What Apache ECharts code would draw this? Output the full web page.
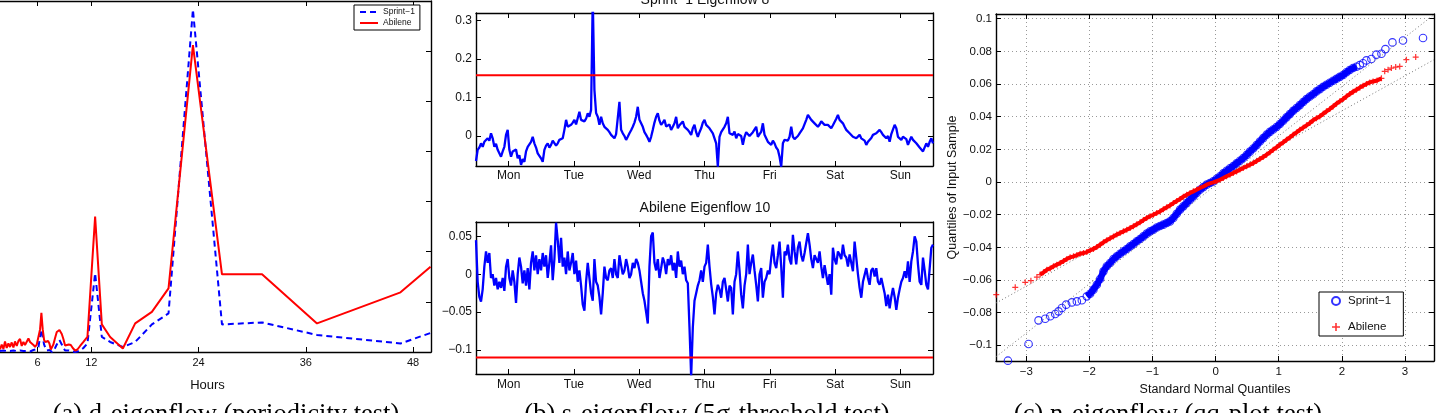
<!DOCTYPE html>
<html><head><meta charset="utf-8">
<script src="https://cdn.jsdelivr.net/npm/echarts@6/dist/echarts.min.js"></script>
<style>html,body{margin:0;padding:0;background:#fff}#c{width:1440px;height:413px}</style>
</head><body><div id="c"></div>
<script>
// ---------- (a) periodicity test ----------
const periodHours = [1.79,1.98,2.17,2.35,2.54,2.73,2.91,3.10,3.29,3.47,3.66,3.85,4.03,4.22,4.41,4.59,4.78,4.97,5.15,5.34,5.53,5.71,5.90,6.09,6.27,
  6.42,6.57,6.72,6.87,7.02,7.17,7.32,7.47,7.62,7.76,7.95,8.14,
  8.44,8.70,8.88,9.07,9.26,9.48,9.71,9.93,10.19,10.45,10.75,11.12,11.57,
  12.43,13.18,14.11,15.53,16.91,18.78,20.64,23.37,26.62,31.10,37.25,46.59,49.95];
const periodSprint = [0.02,0.01,0.03,0.01,0.02,0.00,0.02,0.01,0.03,0.01,0.02,0.00,0.03,0.01,0.02,0.00,0.02,0.03,0.01,0.02,0.04,0.03,0.06,0.10,0.30,
  0.45,0.30,0.15,0.08,0.03,0.02,0.04,0.01,0.00,0.02,0.08,0.15,
  0.24,0.15,0.08,0.03,0.01,0.03,0.02,0.01,0.00,0.01,0.03,0.08,0.17,
  1.57,0.30,0.20,0.10,0.20,0.55,0.77,6.83,0.55,0.59,0.34,0.17,0.38];
const periodAbilene = [0.05,0.15,0.06,0.21,0.08,0.17,0.10,0.19,0.09,0.21,0.12,0.22,0.26,0.12,0.20,0.14,0.17,0.27,0.20,0.22,0.14,0.10,0.15,0.14,0.45,
  0.78,0.45,0.24,0.20,0.17,0.22,0.17,0.05,0.03,0.15,0.28,0.40,
  0.44,0.36,0.26,0.13,0.10,0.15,0.14,0.08,0.03,0.05,0.12,0.20,0.30,
  2.70,0.55,0.30,0.07,0.57,0.80,1.27,6.12,1.55,1.55,0.57,1.19,1.70];
const hourTicks = [6,12,24,36,48];
const periodYTicks = [0,1,2,3,4,5,6,7];

// ---------- (b) 5-sigma threshold test ----------
const dayLabels = ['Mon','Tue','Wed','Thu','Fri','Sat','Sun'];
const dayTicks = [0,1,2,3,4,5,6];
const sprintEig8 = [
  -0.065,-0.036,-0.030,-0.019,-0.028,-0.015,-0.020,-0.006,-0.012,0.007,
  -0.006,-0.028,-0.020,-0.036,-0.045,-0.054,-0.040,-0.028,0.003,0.016,
  -0.036,-0.054,-0.040,-0.045,-0.035,-0.058,-0.050,-0.075,-0.060,-0.067,
  -0.040,-0.028,-0.030,-0.015,-0.002,-0.019,-0.030,-0.045,-0.040,-0.058,
  -0.067,-0.036,-0.025,-0.019,-0.030,-0.023,-0.012,-0.015,-0.025,-0.019,
  -0.010,-0.015,-0.006,0.016,0.042,0.024,0.020,0.029,0.035,0.042,
  0.030,0.033,0.063,0.042,0.038,0.038,0.045,0.059,0.050,0.068,
  0.360,0.120,0.060,0.050,0.029,0.050,0.033,0.024,0.020,0.016,
  0.010,0.003,0.000,-0.006,0.005,0.007,0.089,0.016,0.007,0.000,
  -0.010,-0.002,0.007,0.015,0.024,0.035,0.050,0.076,0.042,0.033,
  0.024,0.010,0.003,-0.005,-0.015,-0.002,0.016,0.035,0.050,0.059,
  0.040,0.029,0.035,0.042,0.025,0.020,0.030,0.016,0.024,0.033,
  0.050,0.020,0.028,0.029,0.038,0.024,0.020,0.016,0.010,0.003,
  0.020,0.029,0.010,-0.002,0.010,0.020,0.035,0.042,0.029,
  0.029,0.020,0.024,0.007,0.010,-0.019,-0.080,-0.002,0.010,0.007,
  0.024,0.033,0.050,0.007,0.010,0.003,0.012,-0.006,0.005,0.007,
  0.000,-0.023,-0.002,0.010,0.007,0.000,-0.002,0.010,0.011,0.024,
  -0.002,0.005,0.011,0.033,0.003,-0.006,-0.015,-0.010,-0.023,-0.012,
  -0.019,-0.030,-0.036,-0.054,-0.080,-0.019,-0.010,-0.006,-0.012,-0.002,
  0.024,-0.002,-0.008,-0.010,0.000,0.007,0.012,0.020,0.016,0.042,
  0.055,0.050,0.042,0.038,0.033,0.029,0.024,0.030,0.038,0.035,
  0.029,0.033,0.029,0.024,0.020,0.028,0.033,0.045,0.055,0.042,
  0.038,0.033,0.024,0.016,0.012,0.007,0.003,-0.002,0.000,-0.006,
  -0.002,0.003,-0.006,-0.006,-0.012,-0.023,-0.015,-0.015,-0.005,0.003,
  0.007,0.007,0.012,0.016,0.010,0.003,-0.002,-0.006,0.000,-0.015,
  0.005,0.007,0.029,0.020,-0.002,-0.006,-0.010,-0.002,0.003,-0.008,
  -0.023,-0.012,-0.002,-0.010,-0.015,-0.019,-0.019,-0.030,-0.032,-0.040,
  -0.045,-0.019,-0.028,-0.015,-0.006,-0.019];
const abileneEig10 = [
  0.045,-0.010,-0.030,-0.036,-0.020,0.010,0.030,0.015,0.028,-0.005,
  0.000,-0.015,-0.005,-0.020,-0.010,-0.018,-0.005,-0.022,0.010,0.020,
  -0.005,-0.015,0.005,-0.010,-0.038,0.000,0.022,0.010,-0.012,0.005,
  -0.015,0.008,-0.020,0.015,0.030,0.005,0.025,0.000,0.020,0.005,
  0.028,0.010,0.025,-0.005,0.015,0.038,-0.008,0.020,0.068,0.045,
  0.015,0.048,0.010,0.022,0.000,0.030,0.005,0.015,0.028,0.000,
  0.018,-0.010,0.005,-0.015,-0.040,-0.048,-0.010,0.015,-0.005,-0.025,
  -0.035,0.020,-0.010,-0.015,-0.030,-0.053,-0.025,0.010,-0.005,-0.008,
  0.005,0.008,-0.005,0.020,0.000,-0.005,0.025,0.012,0.000,0.005,
  0.020,0.010,-0.005,0.000,0.015,0.008,0.020,0.015,0.005,-0.010,
  -0.025,-0.035,-0.050,-0.065,0.010,0.050,0.055,0.015,0.005,0.020,
  -0.005,0.008,0.022,0.015,0.000,0.020,0.012,0.025,0.005,0.015,
  -0.005,0.030,0.010,0.018,0.000,0.010,-0.008,-0.012,-0.070,-0.135,
  -0.070,-0.035,-0.025,-0.015,-0.008,0.005,-0.010,0.010,0.015,
  0.039,0.010,-0.013,-0.030,-0.053,-0.025,-0.014,-0.020,-0.031,-0.010,
  -0.005,-0.020,-0.036,-0.015,-0.018,-0.053,-0.010,0.000,0.030,0.005,
  -0.027,-0.045,-0.015,0.000,0.039,0.000,0.015,0.026,0.005,-0.014,
  -0.036,0.000,0.008,-0.031,-0.010,-0.005,0.005,0.000,0.022,0.039,
  0.015,0.008,0.025,0.043,0.010,-0.031,0.030,0.025,0.039,0.020,
  0.013,0.052,0.030,0.013,0.035,0.043,0.025,0.017,0.028,0.026,
  0.054,0.039,0.020,0.008,0.025,0.026,0.015,0.030,0.010,-0.005,
  0.012,0.013,-0.014,0.000,-0.027,0.035,0.020,0.013,0.030,0.026,
  0.020,0.039,0.025,0.022,0.010,0.026,0.015,0.004,0.043,0.022,
  0.000,-0.018,-0.031,-0.010,-0.009,0.008,-0.005,-0.014,0.005,0.008,
  -0.003,0.008,-0.010,-0.014,-0.005,-0.005,-0.025,-0.042,-0.027,-0.045,
  -0.030,-0.018,-0.030,-0.047,-0.031,-0.020,-0.010,-0.005,0.004,-0.005,
  0.017,-0.010,0.017,0.030,0.050,0.043,0.013,-0.010,-0.014,0.022,
  0.005,-0.014,-0.020,-0.018,0.035,0.039];
const sprintThreshold = 0.158;
const abileneThreshold = -0.110;
const sprintEigTicks = [0,0.1,0.2,0.3];
const abileneEigTicks = [-0.1,-0.05,0,0.05];

// ---------- (c) qq-plot test ----------
const qqSprintLowTail = [[-3.291,-0.1094],[-2.964,-0.0992],[-2.806,-0.0847],[-2.700,-0.0837],[-2.621,-0.0822],[-2.542,-0.0808],[-2.489,-0.0792],[-2.437,-0.0771],[-2.368,-0.0751],[-2.278,-0.0737],[-2.199,-0.0731],[-2.120,-0.0724]];
const qqSprintBand = [
  [-2.041,-0.0700],[-1.988,-0.0684],[-1.936,-0.0659],[-1.883,-0.0629],[-1.830,-0.0594],[-1.777,-0.0547],[-1.725,-0.0516],[-1.672,-0.0496],[-1.619,-0.0471],[-1.566,-0.0455],
  [-1.514,-0.0439],[-1.461,-0.0424],[-1.408,-0.0410],[-1.355,-0.0394],[-1.303,-0.0380],[-1.250,-0.0363],[-1.197,-0.0349],[-1.145,-0.0333],[-1.092,-0.0316],[-1.039,-0.0302],
  [-0.986,-0.0292],[-0.934,-0.0278],[-0.881,-0.0269],[-0.828,-0.0261],[-0.775,-0.0251],[-0.723,-0.0241],[-0.670,-0.0220],[-0.617,-0.0194],[-0.564,-0.0169],[-0.512,-0.0149],
  [-0.459,-0.0129],[-0.406,-0.0108],[-0.353,-0.0088],[-0.301,-0.0067],[-0.248,-0.0047],[-0.195,-0.0031],[-0.142,-0.0016],[-0.090,-0.0006],[-0.037,0.0004],[0.016,0.0020],
  [0.069,0.0035],[0.121,0.0053],[0.174,0.0069],[0.227,0.0084],[0.280,0.0098],[0.332,0.0114],[0.385,0.0130],[0.438,0.0147],[0.491,0.0166],[0.543,0.0186],
  [0.596,0.0205],[0.649,0.0226],[0.701,0.0248],[0.754,0.0269],[0.807,0.0290],[0.860,0.0307],[0.912,0.0322],[0.965,0.0337],[1.018,0.0355],[1.071,0.0375],
  [1.123,0.0396],[1.176,0.0416],[1.229,0.0436],[1.282,0.0453],[1.334,0.0471],[1.387,0.0490],[1.440,0.0508],[1.493,0.0524],[1.545,0.0538],[1.598,0.0555],
  [1.651,0.0569],[1.704,0.0583],[1.756,0.0596],[1.809,0.0608],[1.862,0.0620],[1.915,0.0632],[1.967,0.0644],[2.020,0.0655],[2.073,0.0672],[2.125,0.0686],
  [2.178,0.0698],[2.231,0.0706]];
const qqSprintHighTail = [[2.284,0.0716],[2.336,0.0727],[2.389,0.0745],[2.468,0.0753],[2.547,0.0780],[2.627,0.0786],[2.690,0.0814],[2.801,0.0855],[2.969,0.0867],[3.286,0.0882]];
const qqAbileneLowTail = [[-3.476,-0.0690],[-3.175,-0.0645],[-3.017,-0.0614],[-2.927,-0.0604],[-2.832,-0.0582]];
const qqAbileneBand = [
  [-2.780,-0.0567],[-2.727,-0.0553],[-2.674,-0.0537],[-2.621,-0.0529],[-2.569,-0.0516],[-2.516,-0.0506],[-2.463,-0.0496],[-2.410,-0.0484],[-2.358,-0.0471],[-2.305,-0.0461],
  [-2.252,-0.0455],[-2.199,-0.0447],[-2.147,-0.0439],[-2.094,-0.0435],[-2.041,-0.0429],[-1.988,-0.0418],[-1.936,-0.0410],[-1.883,-0.0398],[-1.830,-0.0384],[-1.777,-0.0369],
  [-1.725,-0.0357],[-1.672,-0.0345],[-1.619,-0.0333],[-1.566,-0.0322],[-1.514,-0.0312],[-1.461,-0.0302],[-1.408,-0.0292],[-1.355,-0.0282],[-1.303,-0.0271],[-1.250,-0.0259],
  [-1.197,-0.0247],[-1.145,-0.0233],[-1.092,-0.0220],[-1.039,-0.0210],[-0.986,-0.0200],[-0.934,-0.0190],[-0.881,-0.0180],[-0.828,-0.0167],[-0.775,-0.0155],[-0.723,-0.0143],
  [-0.670,-0.0129],[-0.617,-0.0116],[-0.564,-0.0104],[-0.512,-0.0090],[-0.459,-0.0078],[-0.406,-0.0067],[-0.353,-0.0057],[-0.301,-0.0047],[-0.248,-0.0037],[-0.195,-0.0027],
  [-0.142,-0.0016],[-0.090,-0.0008],[-0.037,-0.0002],[0.016,0.0006],[0.069,0.0014],[0.121,0.0024],[0.174,0.0035],[0.227,0.0045],[0.280,0.0055],[0.332,0.0065],
  [0.385,0.0076],[0.438,0.0086],[0.491,0.0096],[0.543,0.0106],[0.596,0.0116],[0.649,0.0129],[0.701,0.0141],[0.754,0.0153],[0.807,0.0167],[0.860,0.0182],
  [0.912,0.0198],[0.965,0.0212],[1.018,0.0229],[1.071,0.0243],[1.123,0.0259],[1.176,0.0273],[1.229,0.0290],[1.282,0.0304],[1.334,0.0320],[1.387,0.0333],
  [1.440,0.0347],[1.493,0.0361],[1.545,0.0378],[1.598,0.0390],[1.651,0.0402],[1.704,0.0418],[1.756,0.0433],[1.809,0.0447],[1.862,0.0463],[1.915,0.0480],
  [1.967,0.0494],[2.020,0.0508],[2.073,0.0524],[2.125,0.0539],[2.178,0.0553],[2.231,0.0565],[2.284,0.0578],[2.336,0.0590],[2.389,0.0600],[2.442,0.0610],
  [2.495,0.0616],[2.558,0.0622],[2.627,0.0635]];
const qqAbileneHighTail = [[2.679,0.0678],[2.732,0.0688],[2.785,0.0698],[2.853,0.0704],[2.917,0.0708],[3.022,0.0749],[3.170,0.0765],[3.470,0.0845]];
const qqSprintFit = [[-3.48,-0.1070],[3.46,0.1025]];
const qqAbileneFit = [[-3.48,-0.0741],[3.46,0.0749]];
const qqXTicks = [-3,-2,-1,0,1,2,3];
const qqYTicks = [-0.1,-0.08,-0.06,-0.04,-0.02,0,0.02,0.04,0.06,0.08,0.1];

const captions = ['(a) d-eigenflow (periodicity test)', '(b) s-eigenflow (5\u03c3-threshold test)', '(c) n-eigenflow (qq-plot test)'];
const panelTitles = ['Sprint\u22121 Eigenflow 8', 'Abilene Eigenflow 10'];

// ---------- build ----------
const FONT = '"Liberation Sans", Arial, Helvetica, sans-serif';
const SERIF = '"Liberation Serif", "DejaVu Serif", serif';
const BLUE = '#0000ff', RED = '#ff0000';
function fmtNum(v){ const r = Math.round(v*1000)/1000; if (r === 0) return '0'; return (r < 0 ? '\u2212' : '') + String(Math.abs(r)); }
const zip = (xs, ys) => xs.map((x, i) => [x, ys[i]]);
const timeOf = (arr) => arr.map((v, i) => [-0.5 + 7 * i / (arr.length - 1), v]);

const xAxes = [], yAxes = [];
function addAxes(g, xr, yr, xTicks, yTicks, xFmt, yFmt, o) {
  o = o || {};
  const line = {show: true, onZero: false, lineStyle: {color: '#000', width: 1.4}};
  const tick = (vals) => ({show: true, inside: true, length: 5, customValues: vals, lineStyle: {color: '#000', width: 1}});
  const split = {show: !!o.grid, lineStyle: {color: '#999', type: [1, 3], width: 1}};
  const lab = (vals, fmt, margin) => ({show: true, customValues: vals, formatter: fmt, fontFamily: FONT, fontSize: o.fs || 11, color: '#111', margin: margin});
  const nameStyle = {fontFamily: FONT, fontSize: o.nfs || 12, color: '#111', padding: o.namePad || 0};
  xAxes.push({gridIndex: g, type: 'value', position: 'bottom', min: xr[0], max: xr[1], axisLine: line, axisTick: tick(xTicks),
    axisLabel: lab(xTicks, xFmt, o.xm || 5), splitLine: split,
    name: o.xName || '', nameLocation: 'middle', nameGap: o.xGap || 20, nameTextStyle: nameStyle});
  xAxes.push({gridIndex: g, type: 'value', position: 'top', min: xr[0], max: xr[1], axisLine: line, axisTick: tick(xTicks),
    axisLabel: {show: false}, splitLine: {show: false}});
  yAxes.push({gridIndex: g, type: 'value', position: 'left', min: yr[0], max: yr[1],
    axisLine: o.hideLeft ? {show: false, onZero: false} : line, axisTick: o.hideLeft ? {show: false} : tick(yTicks),
    axisLabel: o.hideLeft ? {show: false} : lab(yTicks, yFmt, o.ym || 4), splitLine: split,
    name: o.yName || '', nameLocation: 'middle', nameGap: o.yGap || 40, nameRotate: 90, nameTextStyle: {fontFamily: FONT, fontSize: o.nfs || 12, color: '#111'}});
  yAxes.push({gridIndex: g, type: 'value', position: 'right', min: yr[0], max: yr[1], axisLine: line, axisTick: tick(yTicks),
    axisLabel: {show: false}, splitLine: {show: false}});
}

addAxes(0, [periodHours[0], 50], [0, 7], hourTicks, periodYTicks, v => String(v), fmtNum,
  {hideLeft: true, xName: 'Hours', xGap: 27, fs: 11, nfs: 13, namePad: [0, 16, 0, 0]});
addAxes(1, [-0.5, 6.5], [-0.078, 0.320], dayTicks, sprintEigTicks, v => dayLabels[Math.round(v)], fmtNum, {fs: 12, xm: 4});
addAxes(2, [-0.5, 6.5], [-0.1317, 0.0689], dayTicks, abileneEigTicks, v => dayLabels[Math.round(v)], fmtNum, {fs: 12, xm: 5});
addAxes(3, [-3.48, 3.46], [-0.1096, 0.1029], qqXTicks, qqYTicks, fmtNum, fmtNum,
  {grid: true, fs: 11.5, xm: 5, ym: 4, xName: 'Standard Normal Quantiles', xGap: 16, yName: 'Quantiles of Input Sample', yGap: 37, nfs: 12.5});

const plusPath = 'path://M4,0h2v4h4v2h-4v4h-2v-4h-4v-2h4z';
const circleStyle = {color: 'rgba(0,0,0,0)', borderColor: BLUE, borderWidth: 1.1};

const option = {
  animation: false,
  backgroundColor: '#fff',
  grid: [
    {left: 0, right: 1009, top: 1, bottom: 61},
    {left: 476, right: 507, top: 13, bottom: 247},
    {left: 476, right: 507, top: 222, bottom: 39},
    {left: 996, right: 6, top: 14, bottom: 52}
  ],
  xAxis: xAxes,
  yAxis: yAxes,
  legend: [
    {data: ['Sprint\u22121', 'Abilene'], left: 354, top: 5, orient: 'vertical', itemWidth: 18, itemHeight: 6, itemGap: 1,
     padding: [2, 5, 2, 5], borderColor: '#000', borderWidth: 1, backgroundColor: '#fff', selectedMode: false,
     itemStyle: {opacity: 0},
     textStyle: {fontFamily: FONT, fontSize: 8.5, lineHeight: 10, color: '#111'}},
    {data: ['Sprint\u22121 ', 'Abilene '], left: 1319, top: 292, orient: 'vertical', itemWidth: 14, itemHeight: 8, itemGap: 14,
     padding: [3, 9, 3, 12], borderColor: '#000', borderWidth: 1, backgroundColor: '#fff', selectedMode: false,
     textStyle: {fontFamily: FONT, fontSize: 11.5, lineHeight: 12, color: '#111'}}
  ],
  series: [
    {name: 'Sprint\u22121', type: 'line', xAxisIndex: 0, yAxisIndex: 0, data: zip(periodHours, periodSprint), symbol: 'none',
     lineStyle: {color: BLUE, width: 2, type: [6, 4]}, itemStyle: {color: BLUE}},
    {name: 'Abilene', type: 'line', xAxisIndex: 0, yAxisIndex: 0, data: zip(periodHours, periodAbilene), symbol: 'none',
     lineStyle: {color: RED, width: 2}, itemStyle: {color: RED}},

    {type: 'line', xAxisIndex: 2, yAxisIndex: 2, data: timeOf(sprintEig8), symbol: 'none', lineStyle: {color: BLUE, width: 2.3}},
    {type: 'line', xAxisIndex: 2, yAxisIndex: 2, data: [[-0.5, sprintThreshold], [6.5, sprintThreshold]], symbol: 'none', lineStyle: {color: RED, width: 2}},
    {type: 'line', xAxisIndex: 4, yAxisIndex: 4, data: timeOf(abileneEig10), symbol: 'none', lineStyle: {color: BLUE, width: 2.3}},
    {type: 'line', xAxisIndex: 4, yAxisIndex: 4, data: [[-0.5, abileneThreshold], [6.5, abileneThreshold]], symbol: 'none', lineStyle: {color: RED, width: 2}},

    {type: 'line', xAxisIndex: 6, yAxisIndex: 6, data: qqSprintFit, symbol: 'none', lineStyle: {color: '#777', width: 1, type: [1, 2.5]}},
    {type: 'line', xAxisIndex: 6, yAxisIndex: 6, data: qqAbileneFit, symbol: 'none', lineStyle: {color: '#777', width: 1, type: [1, 2.5]}},
    {type: 'line', xAxisIndex: 6, yAxisIndex: 6, data: qqSprintBand, symbol: 'none', lineStyle: {color: BLUE, width: 6.5}},
    {name: 'Sprint\u22121 ', type: 'scatter', xAxisIndex: 6, yAxisIndex: 6, data: qqSprintLowTail.concat(qqSprintBand, qqSprintHighTail),
     symbol: 'circle', symbolSize: 7.5, itemStyle: circleStyle},
    {type: 'line', xAxisIndex: 6, yAxisIndex: 6, data: qqAbileneBand, symbol: 'none', lineStyle: {color: RED, width: 4}},
    {name: 'Abilene ', type: 'scatter', xAxisIndex: 6, yAxisIndex: 6, data: qqAbileneLowTail.concat(qqAbileneBand, qqAbileneHighTail),
     symbol: plusPath, symbolSize: 6, itemStyle: {color: RED}}
  ],
  graphic: [
    {type: 'text', x: 705, y: 7, style: {text: panelTitles[0], font: '14px ' + FONT, fill: '#111', textAlign: 'center', textVerticalAlign: 'bottom'}},
    {type: 'text', x: 705, y: 208, style: {text: panelTitles[1], font: '14px ' + FONT, fill: '#111', textAlign: 'center', textVerticalAlign: 'middle'}},
    {type: 'text', x: 226, y: 402, style: {text: captions[0], font: '26.5px ' + SERIF, fill: '#000', textAlign: 'center', textVerticalAlign: 'top'}},
    {type: 'text', x: 707, y: 402, style: {text: captions[1], font: '26.5px ' + SERIF, fill: '#000', textAlign: 'center', textVerticalAlign: 'top'}},
    {type: 'text', x: 1168, y: 402, style: {text: captions[2], font: '26.5px ' + SERIF, fill: '#000', textAlign: 'center', textVerticalAlign: 'top'}}
  ]
};
const chart = echarts.init(document.getElementById('c'), null, {renderer: 'canvas'});
chart.setOption(option);
</script>
</body></html>
